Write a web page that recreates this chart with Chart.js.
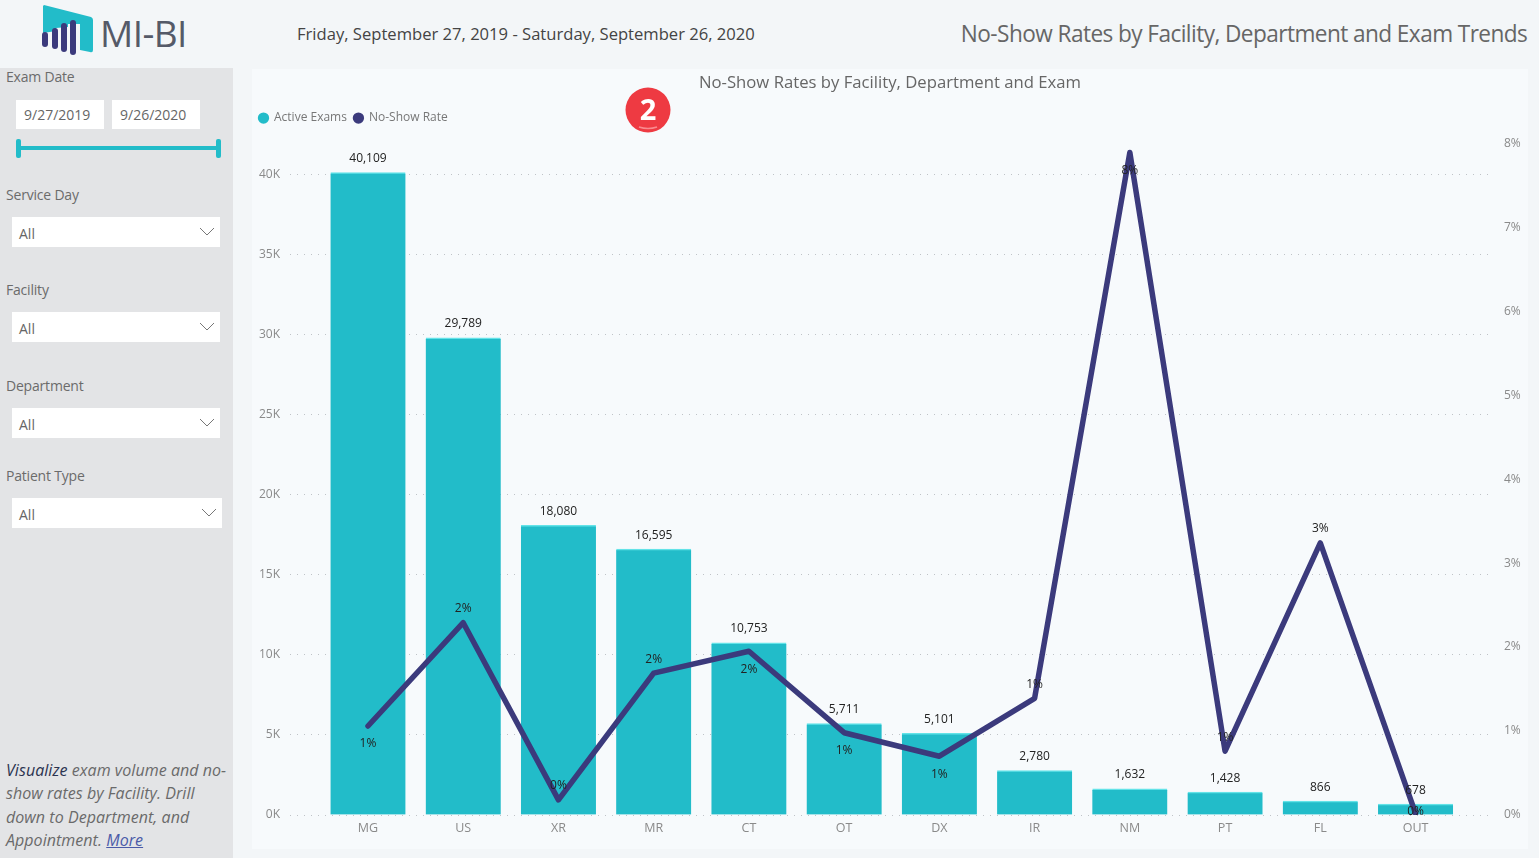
<!DOCTYPE html>
<html>
<head>
<meta charset="utf-8">
<title>No-Show Rates</title>
<script src="https://cdn.jsdelivr.net/npm/chart.js@4"></script>
<style>
html, body { margin: 0; padding: 0; }
body { width: 1539px; height: 858px; overflow: hidden; background: #f3f6f8; font-family: "Open Sans", sans-serif; position: relative; }
.abs { position: absolute; white-space: nowrap; }
#sidebar { position: absolute; left: 0; top: 68px; width: 233px; height: 790px; background: #e3e4e6; }
#panel { position: absolute; left: 252px; top: 69px; width: 1276px; height: 780px; background: #f7fafc; }
.lbl { position: absolute; left: 6px; font-size: 14px; color: #6b6b6b; letter-spacing: -0.2px; }
.box { position: absolute; background: #fff; font-size: 14px; color: #666; box-sizing: border-box; }
.sel { left: 12px; width: 208px; height: 30px; padding: 8px 0 0 7px; line-height: 18px; }
.sel svg { position: absolute; right: 5px; top: 10px; }
.date { top: 32px; width: 88px; height: 29px; line-height: 29px; padding-left: 8px; }
#note { position: absolute; left: 6px; top: 691px; width: 226px; font-size: 16px; line-height: 23.3px; font-style: italic; color: #6a6a6a; letter-spacing: 0.05px; }
#note b { font-weight: 400; color: #2b3350; }
#note a { color: #4a5aa8; text-decoration: underline; }
</style>
</head>
<body>
<svg class="abs" style="left:38px;top:2px" width="60" height="56" viewBox="38 2 60 56">
  <path d="M44 5 L91 17 Q93 18 93 20 L93 50 Q93 53 90 52 L80 50 L80 24 L68 24 L68 27 L56 28 L56 31 L43 33 L43 6 Z" fill="#22bcc9"/>
  <g fill="#3b3a7c">
    <rect x="42" y="32" width="6" height="15" rx="3"/>
    <rect x="52" y="28" width="6" height="21" rx="3"/>
    <rect x="61" y="23" width="6" height="29" rx="3"/>
    <rect x="70" y="20" width="6" height="35" rx="3"/>
  </g>
</svg>
<div class="abs" style="left:100px;top:8px;font-size:37px;line-height:50px;color:#555a68;letter-spacing:-0.6px">MI-BI</div>
<div class="abs" style="left:297px;top:22px;font-size:16.6px;line-height:23px;color:#444">Friday, September 27, 2019 - Saturday, September 26, 2020</div>
<div class="abs" style="right:12px;top:16px;font-size:24px;line-height:33px;color:#666;letter-spacing:-0.6px;transform:scaleX(0.942);transform-origin:right center">No-Show Rates by Facility, Department and Exam Trends</div>

<div id="sidebar">
  <div class="lbl" style="top:-1px">Exam Date</div>
  <div class="box date" style="left:16px">9/27/2019</div>
  <div class="box date" style="left:112px">9/26/2020</div>
  <div class="abs" style="left:18px;top:78px;width:200px;height:4px;background:#22bcc9"></div>
  <div class="abs" style="left:16px;top:71px;width:5px;height:19px;border-radius:2px;background:#22bcc9"></div>
  <div class="abs" style="left:216px;top:71px;width:5px;height:19px;border-radius:2px;background:#22bcc9"></div>

  <div class="lbl" style="top:117px">Service Day</div>
  <div class="box sel" style="top:149px">All<svg width="16" height="9"><path d="M1 1 L8 8 L15 1" fill="none" stroke="#777"/></svg></div>
  <div class="lbl" style="top:212px">Facility</div>
  <div class="box sel" style="top:244px">All<svg width="16" height="9"><path d="M1 1 L8 8 L15 1" fill="none" stroke="#777"/></svg></div>
  <div class="lbl" style="top:308px">Department</div>
  <div class="box sel" style="top:340px">All<svg width="16" height="9"><path d="M1 1 L8 8 L15 1" fill="none" stroke="#777"/></svg></div>
  <div class="lbl" style="top:398px">Patient Type</div>
  <div class="box sel" style="top:430px;width:210px">All<svg width="16" height="9"><path d="M1 1 L8 8 L15 1" fill="none" stroke="#777"/></svg></div>

  <div id="note"><b>Visualize</b> exam volume and no-<br>show rates by Facility. Drill<br>down to Department, and<br>Appointment. <a>More</a></div>
</div>

<div id="panel"><canvas id="chart" width="1276" height="780" style="display:block"></canvas></div>

<svg class="abs" style="left:624px;top:86px" width="48" height="48" viewBox="0 0 48 48">
  <circle cx="24" cy="24" r="22.5" fill="#ee3a42"/>
  <path d="M15 41 Q24 44 33 41" fill="none" stroke="#f98a8e" stroke-width="1.5"/>
  <text x="24" y="34" text-anchor="middle" font-family="Open Sans" font-weight="700" font-size="29" fill="#fff">2</text>
</svg>

<script>
// chart data
const categories = ["MG", "US", "XR", "MR", "CT", "OT", "DX", "IR", "NM", "PT", "FL", "OUT"];
const activeExams = [40109, 29789, 18080, 16595, 10753, 5711, 5101, 2780, 1632, 1428, 866, 678];
const noShowRate = [1.06, 2.29, 0.18, 1.69, 1.95, 0.98, 0.70, 1.39, 7.89, 0.76, 3.24, 0.02];
const examTicks = [0, 5000, 10000, 15000, 20000, 25000, 30000, 35000, 40000];
const rateTicks = [0, 1, 2, 3, 4, 5, 6, 7, 8];
const rateLabelSide = ["below", "above", "above", "above", "below", "below", "below", "above", "below", "above", "above", "on"];

const teal = "#22bcc9";
const navy = "#3b3a7c";
const sideOffset = { above: -14, below: 18, on: -2 };

// Labels over the bars and line, drawn from the scales
const valueLabels = {
    id: "valueLabels",
    afterDatasetsDraw(chart) {
        const ctx = chart.ctx;
        const x = chart.scales.x, y = chart.scales.y, y1 = chart.scales.y1;
        ctx.save();
        ctx.font = '12px "Open Sans"';
        ctx.fillStyle = "#222";
        ctx.textAlign = "center";
        ctx.textBaseline = "middle";
        categories.forEach((c, i) => {
            ctx.fillText(activeExams[i].toLocaleString("en-US"), x.getPixelForValue(i), y.getPixelForValue(activeExams[i]) - 14);
            ctx.fillText(noShowRate[i].toFixed(0) + "%", x.getPixelForValue(i), y1.getPixelForValue(noShowRate[i]) + sideOffset[rateLabelSide[i]]);
        });
        ctx.restore();
    }
};

new Chart(document.querySelector("#chart"), {
    type: "bar",
    data: {
        datasets: [
            {
                label: "Active Exams",
                data: activeExams.map((v, i) => ({ x: i, y: v })),
                backgroundColor: teal,
                borderColor: "#63e3e8",
                borderWidth: { top: 1.5, left: 0, right: 0, bottom: 0 },
                barThickness: 75,
                yAxisID: "y",
                order: 1
            },
            {
                type: "line",
                label: "No-Show Rate",
                data: noShowRate.map((v, i) => ({ x: i, y: v })),
                borderColor: navy,
                backgroundColor: navy,
                borderWidth: 5.5,
                borderJoinStyle: "round",
                borderCapStyle: "round",
                pointRadius: 0,
                tension: 0,
                yAxisID: "y1",
                order: 0
            }
        ]
    },
    plugins: [valueLabels],
    options: {
        responsive: false,
        animation: false,
        layout: { padding: 0 },
        plugins: {
            title: {
                display: true,
                text: "No-Show Rates by Facility, Department and Exam",
                color: "#666",
                font: { family: "Open Sans", size: 16.7, weight: "normal" },
                padding: { top: 4, bottom: 12 }
            },
            subtitle: {
                display: true,
                text: " ",
                weight: 500,
                font: { size: 1 },
                padding: { top: 0, bottom: 8 }
            },
            legend: {
                position: "top",
                align: "start",
                labels: {
                    usePointStyle: true,
                    boxHeight: 8,
                    boxWidth: 9,
                    padding: 7,
                    color: "#777",
                    font: { family: "Open Sans", size: 12 },
                    sort: (a, b) => a.datasetIndex - b.datasetIndex,
                    generateLabels(chart) {
                        return Chart.defaults.plugins.legend.labels.generateLabels(chart).map(l => ({ ...l, lineWidth: 0, pointStyle: "circle" }));
                    }
                }
            },
            tooltip: { enabled: false }
        },
        scales: {
            x: {
                type: "linear",
                offset: false,
                min: -0.819,
                max: 11.803,
                afterBuildTicks(scale) { scale.ticks = categories.map((c, i) => ({ value: i })); },
                afterFit(scale) { scale.height = 34; },
                grid: { display: false, drawTicks: false },
                border: { display: false },
                ticks: {
                    autoSkip: false,
                    maxRotation: 0,
                    padding: 6,
                    color: "#8a8a8a",
                    font: { family: "Open Sans", size: 12.5 },
                    callback: v => categories[v]
                }
            },
            y: {
                position: "left",
                min: 0,
                max: 41934,
                afterBuildTicks(scale) { scale.ticks = examTicks.map(v => ({ value: v })); },
                afterFit(scale) { scale.width = 38; },
                border: { display: false, dash: [1, 6] },
                grid: { color: "#bfc3c7", drawTicks: false, lineWidth: 1 },
                ticks: {
                    padding: 10,
                    color: "#8a8a8a",
                    font: { family: "Open Sans", size: 12 },
                    callback: v => (v / 1000) + "K"
                }
            },
            y1: {
                position: "right",
                min: 0,
                max: 8,
                afterBuildTicks(scale) { scale.ticks = rateTicks.map(v => ({ value: v })); },
                afterFit(scale) { scale.width = 36; },
                border: { display: false },
                grid: { display: false, drawTicks: false },
                ticks: {
                    padding: 12,
                    color: "#8a8a8a",
                    font: { family: "Open Sans", size: 12 },
                    callback: v => v + "%"
                }
            }
        }
    }
});
</script>
</body>
</html>
